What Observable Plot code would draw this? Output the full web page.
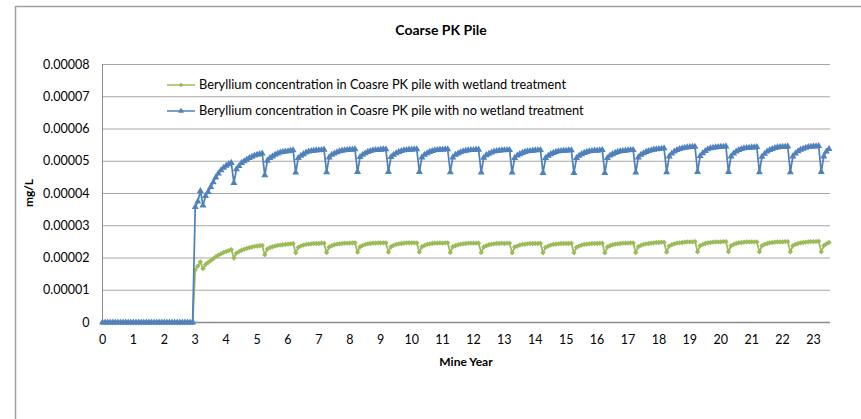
<!DOCTYPE html>
<html>
<head>
<meta charset="utf-8">
<script src="https://cdn.jsdelivr.net/npm/d3@7"></script>
<script src="https://cdn.jsdelivr.net/npm/@observablehq/plot@0.6"></script>
<style>
  html, body { margin: 0; padding: 0; background: #fff; }
  #chart { width: 861px; height: 419px; }
</style>
</head>
<body>
<div id="chart"></div>
<script>
// ---------- DATA (mg/L, one value per month starting at Mine Year 0) ----------
const title = "Coarse PK Pile";
const xLabel = "Mine Year";
const yLabel = "mg/L";
const seriesNames = [
  "Beryllium concentration in Coasre PK pile with wetland treatment",
  "Beryllium concentration in Coasre PK pile with no wetland treatment"
];
const xTicks = [0,1,2,3,4,5,6,7,8,9,10,11,12,13,14,15,16,17,18,19,20,21,22,23];
const yTicks = [0, 0.00001, 0.00002, 0.00003, 0.00004, 0.00005, 0.00006, 0.00007, 0.00008];
const yTickLabels = ["0","0.00001","0.00002","0.00003","0.00004","0.00005","0.00006","0.00007","0.00008"];
const monthsPerYear = 12;

// with wetland treatment (green)
const withWetland = [
  0,0,0,0,0,0,0,0,0,0,0,0,
  0,0,0,0,0,0,0,0,0,0,0,0,
  0,0,0,0,0,0,0,0,0,0,0,0,
  1.63e-5,1.75e-5,1.88e-5,1.67e-5,1.80e-5,1.86e-5,1.92e-5,1.98e-5,2.04e-5,2.09e-5,2.13e-5,2.17e-5,
  2.20e-5,2.23e-5,2.26e-5,2.00e-5,2.15e-5,2.20e-5,2.24e-5,2.27e-5,2.30e-5,2.32e-5,2.34e-5,2.36e-5,
  2.37e-5,2.38e-5,2.39e-5,2.10e-5,2.28e-5,2.32e-5,2.35e-5,2.37e-5,2.39e-5,2.40e-5,2.41e-5,2.42e-5,
  2.43e-5,2.44e-5,2.45e-5,2.16e-5,2.33e-5,2.37e-5,2.40e-5,2.42e-5,2.43e-5,2.44e-5,2.45e-5,2.45e-5,
  2.45e-5,2.46e-5,2.46e-5,2.17e-5,2.34e-5,2.38e-5,2.41e-5,2.43e-5,2.44e-5,2.45e-5,2.46e-5,2.46e-5,
  2.46e-5,2.47e-5,2.47e-5,2.18e-5,2.35e-5,2.39e-5,2.42e-5,2.44e-5,2.45e-5,2.46e-5,2.46e-5,2.47e-5,
  2.47e-5,2.47e-5,2.47e-5,2.18e-5,2.35e-5,2.39e-5,2.42e-5,2.44e-5,2.45e-5,2.46e-5,2.47e-5,2.47e-5,
  2.47e-5,2.47e-5,2.47e-5,2.18e-5,2.35e-5,2.39e-5,2.42e-5,2.44e-5,2.45e-5,2.46e-5,2.46e-5,2.47e-5,
  2.46e-5,2.47e-5,2.47e-5,2.17e-5,2.35e-5,2.38e-5,2.41e-5,2.43e-5,2.44e-5,2.45e-5,2.46e-5,2.46e-5,
  2.46e-5,2.46e-5,2.46e-5,2.17e-5,2.34e-5,2.38e-5,2.41e-5,2.43e-5,2.44e-5,2.45e-5,2.45e-5,2.46e-5,
  2.45e-5,2.46e-5,2.46e-5,2.16e-5,2.34e-5,2.37e-5,2.40e-5,2.42e-5,2.43e-5,2.44e-5,2.45e-5,2.45e-5,
  2.45e-5,2.45e-5,2.46e-5,2.16e-5,2.33e-5,2.37e-5,2.40e-5,2.42e-5,2.43e-5,2.44e-5,2.45e-5,2.45e-5,
  2.45e-5,2.45e-5,2.46e-5,2.16e-5,2.33e-5,2.37e-5,2.40e-5,2.42e-5,2.43e-5,2.44e-5,2.45e-5,2.45e-5,
  2.45e-5,2.46e-5,2.46e-5,2.16e-5,2.34e-5,2.38e-5,2.41e-5,2.43e-5,2.44e-5,2.45e-5,2.46e-5,2.46e-5,
  2.46e-5,2.47e-5,2.47e-5,2.17e-5,2.35e-5,2.39e-5,2.42e-5,2.44e-5,2.45e-5,2.46e-5,2.47e-5,2.48e-5,
  2.48e-5,2.49e-5,2.49e-5,2.18e-5,2.37e-5,2.41e-5,2.44e-5,2.46e-5,2.47e-5,2.48e-5,2.49e-5,2.50e-5,
  2.50e-5,2.50e-5,2.51e-5,2.19e-5,2.38e-5,2.42e-5,2.45e-5,2.47e-5,2.48e-5,2.49e-5,2.50e-5,2.50e-5,
  2.50e-5,2.51e-5,2.51e-5,2.19e-5,2.38e-5,2.42e-5,2.45e-5,2.47e-5,2.48e-5,2.49e-5,2.50e-5,2.50e-5,
  2.50e-5,2.50e-5,2.50e-5,2.19e-5,2.38e-5,2.42e-5,2.45e-5,2.47e-5,2.48e-5,2.49e-5,2.50e-5,2.50e-5,
  2.50e-5,2.51e-5,2.51e-5,2.19e-5,2.38e-5,2.42e-5,2.45e-5,2.47e-5,2.48e-5,2.49e-5,2.50e-5,2.51e-5,
  2.51e-5,2.51e-5,2.52e-5,2.19e-5,2.38e-5,2.44e-5,2.48e-5
];

// with no wetland treatment (blue)
const noWetland = [
  0,0,0,0,0,0,0,0,0,0,0,0,
  0,0,0,0,0,0,0,0,0,0,0,0,
  0,0,0,0,0,0,0,0,0,0,0,0,
  3.58e-5,3.75e-5,4.08e-5,3.63e-5,3.92e-5,4.05e-5,4.20e-5,4.35e-5,4.50e-5,4.62e-5,4.72e-5,4.80e-5,
  4.86e-5,4.91e-5,4.95e-5,4.33e-5,4.75e-5,4.85e-5,4.95e-5,5.00e-5,5.05e-5,5.10e-5,5.14e-5,5.18e-5,
  5.20e-5,5.22e-5,5.24e-5,4.57e-5,5.02e-5,5.10e-5,5.15e-5,5.20e-5,5.24e-5,5.27e-5,5.29e-5,5.30e-5,
  5.31e-5,5.33e-5,5.34e-5,4.65e-5,5.10e-5,5.17e-5,5.22e-5,5.27e-5,5.30e-5,5.32e-5,5.33e-5,5.34e-5,
  5.34e-5,5.35e-5,5.36e-5,4.66e-5,5.12e-5,5.20e-5,5.24e-5,5.28e-5,5.31e-5,5.33e-5,5.34e-5,5.35e-5,
  5.36e-5,5.36e-5,5.37e-5,4.67e-5,5.13e-5,5.20e-5,5.25e-5,5.29e-5,5.32e-5,5.34e-5,5.35e-5,5.35e-5,
  5.36e-5,5.37e-5,5.37e-5,4.67e-5,5.13e-5,5.20e-5,5.25e-5,5.29e-5,5.32e-5,5.34e-5,5.35e-5,5.36e-5,
  5.36e-5,5.37e-5,5.37e-5,4.67e-5,5.12e-5,5.20e-5,5.25e-5,5.29e-5,5.32e-5,5.34e-5,5.35e-5,5.36e-5,
  5.36e-5,5.37e-5,5.37e-5,4.66e-5,5.12e-5,5.20e-5,5.24e-5,5.28e-5,5.31e-5,5.33e-5,5.34e-5,5.35e-5,
  5.35e-5,5.36e-5,5.36e-5,4.65e-5,5.11e-5,5.19e-5,5.23e-5,5.27e-5,5.30e-5,5.32e-5,5.33e-5,5.34e-5,
  5.34e-5,5.35e-5,5.35e-5,4.65e-5,5.10e-5,5.18e-5,5.22e-5,5.26e-5,5.29e-5,5.31e-5,5.32e-5,5.33e-5,
  5.34e-5,5.34e-5,5.35e-5,4.64e-5,5.10e-5,5.17e-5,5.22e-5,5.26e-5,5.29e-5,5.31e-5,5.32e-5,5.33e-5,
  5.33e-5,5.34e-5,5.34e-5,4.64e-5,5.10e-5,5.17e-5,5.22e-5,5.26e-5,5.29e-5,5.31e-5,5.32e-5,5.33e-5,
  5.33e-5,5.34e-5,5.35e-5,4.64e-5,5.10e-5,5.18e-5,5.22e-5,5.26e-5,5.29e-5,5.31e-5,5.32e-5,5.33e-5,
  5.34e-5,5.35e-5,5.35e-5,4.65e-5,5.12e-5,5.20e-5,5.25e-5,5.29e-5,5.32e-5,5.34e-5,5.36e-5,5.37e-5,
  5.38e-5,5.39e-5,5.40e-5,4.66e-5,5.15e-5,5.24e-5,5.30e-5,5.35e-5,5.38e-5,5.40e-5,5.42e-5,5.43e-5,
  5.44e-5,5.45e-5,5.45e-5,4.67e-5,5.16e-5,5.25e-5,5.32e-5,5.37e-5,5.40e-5,5.42e-5,5.43e-5,5.44e-5,
  5.45e-5,5.45e-5,5.46e-5,4.67e-5,5.15e-5,5.24e-5,5.30e-5,5.35e-5,5.38e-5,5.40e-5,5.41e-5,5.42e-5,
  5.43e-5,5.43e-5,5.44e-5,4.66e-5,5.14e-5,5.23e-5,5.30e-5,5.35e-5,5.38e-5,5.41e-5,5.43e-5,5.44e-5,
  5.45e-5,5.45e-5,5.46e-5,4.66e-5,5.15e-5,5.24e-5,5.31e-5,5.36e-5,5.39e-5,5.42e-5,5.44e-5,5.45e-5,
  5.46e-5,5.46e-5,5.47e-5,4.67e-5,5.15e-5,5.30e-5,5.38e-5
];

// ---------- STYLE ----------
const green = "#9BBB59";
const blue = "#4F81BD";
const font = "Lato, 'Open Sans', sans-serif";

const toRows = (arr) => arr.map((v, i) => ({year: i / monthsPerYear, value: v}));
const greenRows = toRows(withWetland);
const blueRows = toRows(noWetland);

const plot = Plot.plot({
  width: 861,
  height: 419,
  marginLeft: 102,
  marginRight: 31,
  marginTop: 64,
  marginBottom: 97,
  style: {fontFamily: font, fontSize: "12px", color: "#000", background: "#fff", overflow: "visible"},
  x: {domain: [0, 23.55]},
  y: {domain: [0, 0.00008]},
  marks: [
    Plot.gridY(yTicks.filter(d => d > 0), {stroke: "#a6a6a6", strokeOpacity: 1, strokeWidth: 1}),
    Plot.axisX({ticks: xTicks, tickSize: 0, tickPadding: 13, label: null, fontSize: 12.5}),
    Plot.axisY({ticks: yTicks, tickSize: 0, tickPadding: 13, label: null, fontSize: 12.5,
                tickFormat: d => yTickLabels[yTicks.indexOf(d)]}),
    Plot.ruleX([0], {stroke: "#8c8c8c", strokeWidth: 1}),
    Plot.ruleY([0], {stroke: "#8c8c8c", strokeWidth: 1.5}),
    Plot.line(greenRows, {x: "year", y: "value", stroke: green, strokeWidth: 1.75}),
    Plot.dot(greenRows, {x: "year", y: "value", symbol: "diamond2", r: 2.4, fill: green, stroke: "none"}),
    Plot.line(blueRows, {x: "year", y: "value", stroke: blue, strokeWidth: 1.75}),
    Plot.dot(blueRows, {x: "year", y: "value", symbol: "triangle", r: 2.6, fill: blue, stroke: "none"})
  ]
});

document.getElementById("chart").appendChild(plot);

// ---------- Decorations: frame, title, axis titles, legend ----------
const svg = d3.select(plot);
svg.append("path")
  .attr("d", "M15.5,419 V6.5 H861")
  .attr("fill", "none").attr("stroke", "#a0a0a0").attr("stroke-width", 1.5);

svg.append("text").text(title)
  .attr("x", 441).attr("y", 30).attr("text-anchor", "middle").attr("dy", "0.35em")
  .attr("font-weight", "bold").attr("font-size", 14).attr("fill", "#000");

svg.append("text").text(xLabel)
  .attr("x", 466).attr("y", 362).attr("text-anchor", "middle").attr("dy", "0.35em")
  .attr("font-weight", "bold").attr("font-size", 12).attr("fill", "#000");

svg.append("text").text(yLabel)
  .attr("transform", "translate(29,193) rotate(-90)").attr("text-anchor", "middle").attr("dy", "0.35em")
  .attr("font-weight", "bold").attr("font-size", 12).attr("fill", "#000");

const legendItems = [
  {name: seriesNames[0], color: green, sym: d3.symbolDiamond2, size: 14, y: 85},
  {name: seriesNames[1], color: blue, sym: d3.symbolTriangle, size: 15, y: 111}
];
const lg = svg.append("g");
legendItems.forEach(it => {
  lg.append("line").attr("x1", 167).attr("x2", 195).attr("y1", it.y).attr("y2", it.y)
    .attr("stroke", it.color).attr("stroke-width", 1.5);
  lg.append("path").attr("d", d3.symbol(it.sym, it.size)())
    .attr("transform", `translate(181,${it.y})`).attr("fill", it.color);
  lg.append("text").text(it.name).attr("x", 199).attr("y", it.y).attr("dy", "0.35em")
    .attr("text-anchor", "start")
    .attr("font-size", 12.8).attr("fill", "#000");
});
</script>
</body>
</html>
